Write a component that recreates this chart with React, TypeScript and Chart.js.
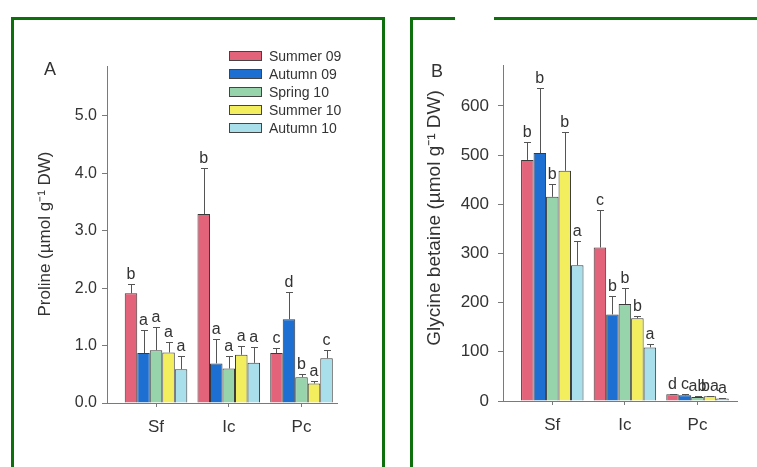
import React, { useEffect, useRef } from "react";
import { Chart, registerables } from "chart.js";
Chart.register(...registerables);

const categories = ["Sf", "Ic", "Pc"];
const seasons = ["Summer 09", "Autumn 09", "Spring 10", "Summer 10", "Autumn 10"];
const seasonColors = ["#e3637a", "#1d6fd2", "#98d4ab", "#f2ee5e", "#a8dfeb"];

// Panel A – Proline (µmol g-1 DW)
const proSummer09 = [1.91, 3.29, 0.87];
const proAutumn09 = [0.87, 0.69, 1.46];
const proSpring10 = [0.92, 0.6, 0.45];
const proSummer10 = [0.88, 0.84, 0.34];
const proAutumn10 = [0.59, 0.7, 0.78];
const proErrSummer09 = [2.08, 4.1, 0.95];
const proErrAutumn09 = [1.27, 1.11, 1.93];
const proErrSpring10 = [1.32, 0.81, 0.51];
const proErrSummer10 = [1.06, 1.0, 0.38];
const proErrAutumn10 = [0.82, 0.98, 0.92];
const proLetSummer09 = ["b", "b", "c"];
const proLetAutumn09 = ["a", "a", "d"];
const proLetSpring10 = ["a", "a", "b"];
const proLetSummer10 = ["a", "a", "a"];
const proLetAutumn10 = ["a", "a", "c"];
const proTicks = [0, 1, 2, 3, 4, 5];

// Panel B – Glycine betaine (µmol g-1 DW)
const gbSummer09 = [490, 312, 13.6];
const gbAutumn09 = [504, 176, 11.5];
const gbSpring10 = [415, 197, 8];
const gbSummer10 = [468, 168, 9.5];
const gbAutumn10 = [276, 109, 5];
const gbErrSummer09 = [527, 388, 15];
const gbErrAutumn09 = [636, 214, 14];
const gbErrSpring10 = [442, 229, 10];
const gbErrSummer10 = [546, 172, 11];
const gbErrAutumn10 = [326, 115, 6];
const gbLetSummer09 = ["b", "c", "d"];
const gbLetAutumn09 = ["b", "b", "c"];
const gbLetSpring10 = ["b", "b", "ab"];
const gbLetSummer10 = ["b", "b", "ba"];
const gbLetAutumn10 = ["a", "a", "a"];
const gbTicks = [0, 100, 200, 300, 400, 500, 600];

const FONT = "'Liberation Sans', Arial, Helvetica, sans-serif";
const AXIS = "#7a7a7a";
const TXT = "#333333";

type Spec = {
  values: number[][];
  errs: number[][];
  letters: string[][];
  yTicks: number[];
  yMax: number;
  decimals: number;
  xMin: number;
  xMax: number;
  yTitle: string;
  titleSize: number;
  ySize: number;
  yPad: number;
  panel: string;
  panelPos: [number, number];
  titleX: number;
  titleY: number;
  yAxisWidth: number;
  padRight: number;
  padTop: number;
  xAxisHeight: number;
  legend: boolean;
  width: number;
  height: number;
};

const annotPlugin = {
  id: "annot",
  afterDatasetsDraw(chart: any) {
    const ctx = chart.ctx;
    const ys = chart.scales.y;
    chart.data.datasets.forEach((ds: any, i: number) => {
      const meta = chart.getDatasetMeta(i);
      meta.data.forEach((bar: any, j: number) => {
        const top = Math.round(ys.getPixelForValue(ds.errTop[j])) + 0.5;
        const x = Math.round(bar.x) + 0.5;
        ctx.save();
        ctx.strokeStyle = "#555";
        ctx.lineWidth = 1;
        ctx.beginPath();
        ctx.moveTo(x, bar.y);
        ctx.lineTo(x, top);
        ctx.moveTo(x - 3.5, top);
        ctx.lineTo(x + 3.5, top);
        ctx.stroke();
        ctx.fillStyle = TXT;
        ctx.font = `16px ${FONT}`;
        ctx.textAlign = "center";
        ctx.textBaseline = "alphabetic";
        ctx.fillText(ds.letters[j], bar.x, top - 6);
        ctx.restore();
      });
    });
  },
  afterDraw(chart: any) {
    const ctx = chart.ctx;
    const o = chart.options.plugins.annot;
    ctx.save();
    ctx.fillStyle = TXT;
    ctx.font = `18px ${FONT}`;
    ctx.textAlign = "center";
    ctx.textBaseline = "middle";
    ctx.fillText(o.panel, o.panelPos[0], o.panelPos[1]);
    // y title
    ctx.save();
    ctx.translate(o.titleX, o.titleY);
    ctx.rotate(-Math.PI / 2);
    ctx.font = `${o.titleSize}px ${FONT}`;
    ctx.fillText(o.yTitle, 0, 0);
    ctx.restore();
    if (o.legend) {
      ctx.font = `14px ${FONT}`;
      ctx.textAlign = "left";
      chart.data.datasets.forEach((ds: any, i: number) => {
        const cy = 36 + i * 18;
        ctx.fillStyle = ds.backgroundColor;
        ctx.fillRect(215.5, cy - 4.5, 32, 9);
        ctx.strokeStyle = "#444";
        ctx.lineWidth = 1;
        ctx.strokeRect(215.5, cy - 4.5, 32, 9);
        ctx.fillStyle = TXT;
        ctx.fillText(ds.label, 255, cy + 1);
      });
    }
    ctx.restore();
  },
};

function Panel({ spec }: { spec: Spec }) {
  const ref = useRef<HTMLCanvasElement>(null);
  useEffect(() => {
    const canvas = ref.current!;
    const datasets = seasons.map((s, i) => ({
      label: s,
      data: spec.values[i].map((v, j) => ({ x: j, y: v })),
      errTop: spec.errs[i],
      letters: spec.letters[i],
      backgroundColor: seasonColors[i],
      borderColor: "#3a3a3a",
      borderWidth: 1,
      borderSkipped: "bottom",
      barPercentage: 1,
      categoryPercentage: 0.86,
    }));
    const chart = new Chart(canvas, {
      type: "bar",
      data: { datasets } as any,
      plugins: [annotPlugin],
      options: {
        animation: false,
        responsive: false,
        devicePixelRatio: 1,
        layout: { padding: { left: 0, right: spec.padRight, top: spec.padTop, bottom: 0 } },
        plugins: {
          legend: { display: false },
          tooltip: { enabled: false },
          annot: {
            panel: spec.panel,
            panelPos: spec.panelPos,
            yTitle: spec.yTitle,
            titleSize: spec.titleSize,
            titleX: spec.titleX,
            titleY: spec.titleY,
            legend: spec.legend,
          },
        } as any,
        scales: {
          x: {
            type: "linear",
            min: spec.xMin,
            max: spec.xMax,
            offset: false,
            afterBuildTicks: (s: any) => {
              s.ticks = categories.map((_, i) => ({ value: i }));
            },
            afterFit: (s: any) => {
              s.height = spec.xAxisHeight;
            },
            ticks: {
              autoSkip: false,
              maxRotation: 0,
              padding: 10,
              color: TXT,
              font: { family: FONT, size: 17 },
              callback: (v: any) => categories[v] ?? "",
            },
            grid: { offset: false, drawOnChartArea: false, drawTicks: true, tickLength: 4, color: AXIS },
            border: { display: true, color: AXIS, width: 1 },
          },
          y: {
            type: "linear",
            min: 0,
            max: spec.yMax,
            afterBuildTicks: (s: any) => {
              s.ticks = spec.yTicks.map((v) => ({ value: v }));
            },
            afterFit: (s: any) => {
              s.width = spec.yAxisWidth;
            },
            ticks: {
              padding: spec.yPad,
              color: TXT,
              font: { family: FONT, size: spec.ySize },
              callback: (v: any) => Number(v).toFixed(spec.decimals),
            },
            grid: { drawOnChartArea: false, drawTicks: true, tickLength: 5, color: AXIS },
            border: { display: true, color: AXIS, width: 1 },
          },
        },
      } as any,
    });
    return () => chart.destroy();
  }, [spec]);
  return <canvas ref={ref} width={spec.width} height={spec.height} style={{ display: "block", width: spec.width, height: spec.height }} />;
}

const specA: Spec = {
  values: [proSummer09, proAutumn09, proSpring10, proSummer10, proAutumn10],
  errs: [proErrSummer09, proErrAutumn09, proErrSpring10, proErrSummer10, proErrAutumn10],
  letters: [proLetSummer09, proLetAutumn09, proLetSpring10, proLetSummer10, proLetAutumn10],
  yTicks: proTicks,
  yMax: 5.87,
  decimals: 1,
  xMin: -0.674,
  xMax: 2.488,
  yTitle: "Proline (\u00b5mol g\u207b\u00b9 DW)",
  titleSize: 17,
  ySize: 16,
  yPad: 5,
  panel: "A",
  panelPos: [36, 50],
  titleX: 31,
  titleY: 214,
  yAxisWidth: 93,
  padRight: 43,
  padTop: 46,
  xAxisHeight: 64,
  legend: true,
  width: 366,
  height: 447,
};

const specB: Spec = {
  values: [gbSummer09, gbAutumn09, gbSpring10, gbSummer10, gbAutumn10],
  errs: [gbErrSummer09, gbErrAutumn09, gbErrSpring10, gbErrSummer10, gbErrAutumn10],
  letters: [gbLetSummer09, gbLetAutumn09, gbLetSpring10, gbLetSummer10, gbLetAutumn10],
  yTicks: gbTicks,
  yMax: 683,
  decimals: 0,
  xMin: -0.679,
  xMax: 2.544,
  yTitle: "Glycine betaine (\u00b5mol g\u207b\u00b9 DW)",
  titleSize: 19,
  ySize: 17,
  yPad: 9,
  panel: "B",
  panelPos: [24, 52],
  titleX: 22,
  titleY: 198,
  yAxisWidth: 90,
  padRight: 20,
  padTop: 45,
  xAxisHeight: 66,
  legend: false,
  width: 344,
  height: 447,
};

export default function App() {
  const green = "#0d700d";
  return (
    <div style={{ position: "fixed", left: 0, top: 0, width: 757, height: 467, background: "#fff", overflow: "hidden" }}>
      <div style={{ position: "absolute", left: 11, top: 17, width: 368, height: 480, border: `3px solid ${green}` }} />
      <div style={{ position: "absolute", left: 410, top: 17, width: 400, height: 480, border: `3px solid ${green}` }} />
      <div style={{ position: "absolute", left: 455, top: 14, width: 39, height: 8, background: "#fff" }} />
      <div style={{ position: "absolute", left: 14, top: 20 }}>
        <Panel spec={specA} />
      </div>
      <div style={{ position: "absolute", left: 413, top: 20 }}>
        <Panel spec={specB} />
      </div>
    </div>
  );
}
